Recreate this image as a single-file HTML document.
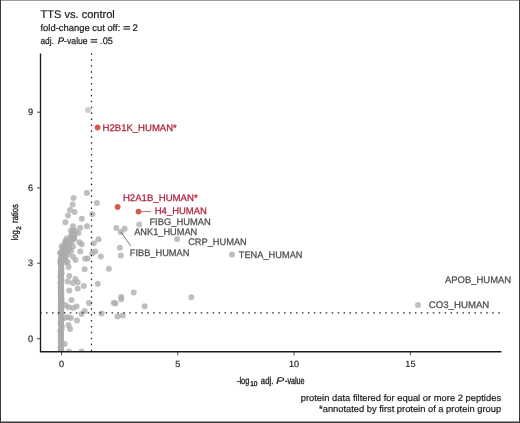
<!DOCTYPE html>
<html lang="en"><head><meta charset="utf-8"><title>TTS vs. control</title>
<style>html,body{margin:0;padding:0;background:#fff}svg{display:block}</style></head>
<body>
<svg width="520" height="423" viewBox="0 0 520 423">
<rect x="0" y="0" width="520" height="423" fill="#fff"/>
<defs><clipPath id="pc"><rect x="41" y="50" width="470" height="301"/></clipPath></defs>
<g clip-path="url(#pc)">
<circle cx="60.8" cy="258.0" r="3.0" fill="#ababab" fill-opacity="0.76"/>
<circle cx="61.1" cy="258.9" r="3.0" fill="#ababab" fill-opacity="0.76"/>
<circle cx="60.6" cy="259.7" r="3.0" fill="#ababab" fill-opacity="0.76"/>
<circle cx="61.1" cy="260.8" r="3.0" fill="#ababab" fill-opacity="0.76"/>
<circle cx="60.5" cy="261.7" r="3.0" fill="#ababab" fill-opacity="0.76"/>
<circle cx="60.8" cy="263.2" r="3.0" fill="#ababab" fill-opacity="0.76"/>
<circle cx="61.5" cy="264.8" r="3.0" fill="#ababab" fill-opacity="0.76"/>
<circle cx="61.0" cy="265.9" r="3.0" fill="#ababab" fill-opacity="0.76"/>
<circle cx="61.2" cy="267.1" r="3.0" fill="#ababab" fill-opacity="0.76"/>
<circle cx="61.1" cy="268.4" r="3.0" fill="#ababab" fill-opacity="0.76"/>
<circle cx="61.5" cy="269.7" r="3.0" fill="#ababab" fill-opacity="0.76"/>
<circle cx="60.9" cy="270.9" r="3.0" fill="#ababab" fill-opacity="0.76"/>
<circle cx="60.7" cy="272.3" r="3.0" fill="#ababab" fill-opacity="0.76"/>
<circle cx="61.6" cy="273.3" r="3.0" fill="#ababab" fill-opacity="0.76"/>
<circle cx="61.1" cy="274.5" r="3.0" fill="#ababab" fill-opacity="0.76"/>
<circle cx="60.9" cy="275.3" r="3.0" fill="#ababab" fill-opacity="0.76"/>
<circle cx="60.4" cy="276.6" r="3.0" fill="#ababab" fill-opacity="0.76"/>
<circle cx="61.2" cy="277.9" r="3.0" fill="#ababab" fill-opacity="0.76"/>
<circle cx="61.2" cy="278.7" r="3.0" fill="#ababab" fill-opacity="0.76"/>
<circle cx="61.2" cy="279.9" r="3.0" fill="#ababab" fill-opacity="0.76"/>
<circle cx="61.2" cy="281.0" r="3.0" fill="#ababab" fill-opacity="0.76"/>
<circle cx="60.4" cy="282.4" r="3.0" fill="#ababab" fill-opacity="0.76"/>
<circle cx="61.2" cy="283.2" r="3.0" fill="#ababab" fill-opacity="0.76"/>
<circle cx="60.7" cy="284.8" r="3.0" fill="#ababab" fill-opacity="0.76"/>
<circle cx="61.1" cy="286.0" r="3.0" fill="#ababab" fill-opacity="0.76"/>
<circle cx="60.8" cy="287.0" r="3.0" fill="#ababab" fill-opacity="0.76"/>
<circle cx="60.8" cy="288.1" r="3.0" fill="#ababab" fill-opacity="0.76"/>
<circle cx="60.8" cy="289.4" r="3.0" fill="#ababab" fill-opacity="0.76"/>
<circle cx="61.3" cy="290.5" r="3.0" fill="#ababab" fill-opacity="0.76"/>
<circle cx="61.1" cy="291.3" r="3.0" fill="#ababab" fill-opacity="0.76"/>
<circle cx="60.8" cy="292.7" r="3.0" fill="#ababab" fill-opacity="0.76"/>
<circle cx="61.4" cy="293.6" r="3.0" fill="#ababab" fill-opacity="0.76"/>
<circle cx="60.6" cy="294.6" r="3.0" fill="#ababab" fill-opacity="0.76"/>
<circle cx="61.2" cy="295.8" r="3.0" fill="#ababab" fill-opacity="0.76"/>
<circle cx="60.8" cy="296.7" r="3.0" fill="#ababab" fill-opacity="0.76"/>
<circle cx="61.4" cy="297.7" r="3.0" fill="#ababab" fill-opacity="0.76"/>
<circle cx="61.4" cy="298.9" r="3.0" fill="#ababab" fill-opacity="0.76"/>
<circle cx="60.8" cy="299.8" r="3.0" fill="#ababab" fill-opacity="0.76"/>
<circle cx="61.5" cy="301.1" r="3.0" fill="#ababab" fill-opacity="0.76"/>
<circle cx="60.7" cy="302.3" r="3.0" fill="#ababab" fill-opacity="0.76"/>
<circle cx="61.0" cy="303.2" r="3.0" fill="#ababab" fill-opacity="0.76"/>
<circle cx="61.4" cy="304.1" r="3.0" fill="#ababab" fill-opacity="0.76"/>
<circle cx="60.6" cy="305.6" r="3.0" fill="#ababab" fill-opacity="0.76"/>
<circle cx="61.4" cy="306.6" r="3.0" fill="#ababab" fill-opacity="0.76"/>
<circle cx="61.4" cy="308.0" r="3.0" fill="#ababab" fill-opacity="0.76"/>
<circle cx="60.6" cy="309.0" r="3.0" fill="#ababab" fill-opacity="0.76"/>
<circle cx="61.4" cy="310.1" r="3.0" fill="#ababab" fill-opacity="0.76"/>
<circle cx="60.8" cy="311.1" r="3.0" fill="#ababab" fill-opacity="0.76"/>
<circle cx="60.9" cy="312.2" r="3.0" fill="#ababab" fill-opacity="0.76"/>
<circle cx="61.5" cy="313.3" r="3.0" fill="#ababab" fill-opacity="0.76"/>
<circle cx="60.4" cy="314.3" r="3.0" fill="#ababab" fill-opacity="0.76"/>
<circle cx="61.5" cy="315.8" r="3.0" fill="#ababab" fill-opacity="0.76"/>
<circle cx="60.9" cy="317.4" r="3.0" fill="#ababab" fill-opacity="0.76"/>
<circle cx="61.5" cy="319.0" r="3.0" fill="#ababab" fill-opacity="0.76"/>
<circle cx="61.3" cy="320.0" r="3.0" fill="#ababab" fill-opacity="0.76"/>
<circle cx="61.2" cy="321.4" r="3.0" fill="#ababab" fill-opacity="0.76"/>
<circle cx="60.7" cy="322.6" r="3.0" fill="#ababab" fill-opacity="0.76"/>
<circle cx="60.7" cy="323.7" r="3.0" fill="#ababab" fill-opacity="0.76"/>
<circle cx="61.1" cy="324.6" r="3.0" fill="#ababab" fill-opacity="0.76"/>
<circle cx="61.4" cy="325.6" r="3.0" fill="#ababab" fill-opacity="0.76"/>
<circle cx="61.5" cy="326.4" r="3.0" fill="#ababab" fill-opacity="0.76"/>
<circle cx="61.5" cy="327.8" r="3.0" fill="#ababab" fill-opacity="0.76"/>
<circle cx="61.5" cy="329.3" r="3.0" fill="#ababab" fill-opacity="0.76"/>
<circle cx="60.4" cy="330.6" r="3.0" fill="#ababab" fill-opacity="0.76"/>
<circle cx="60.6" cy="332.0" r="3.0" fill="#ababab" fill-opacity="0.76"/>
<circle cx="61.2" cy="333.0" r="3.0" fill="#ababab" fill-opacity="0.76"/>
<circle cx="60.9" cy="334.2" r="3.0" fill="#ababab" fill-opacity="0.76"/>
<circle cx="61.1" cy="335.8" r="3.0" fill="#ababab" fill-opacity="0.76"/>
<circle cx="60.7" cy="336.8" r="3.0" fill="#ababab" fill-opacity="0.76"/>
<circle cx="61.0" cy="338.3" r="3.0" fill="#ababab" fill-opacity="0.76"/>
<circle cx="60.8" cy="339.8" r="3.0" fill="#ababab" fill-opacity="0.76"/>
<circle cx="61.0" cy="340.7" r="3.0" fill="#ababab" fill-opacity="0.76"/>
<circle cx="60.6" cy="342.2" r="3.0" fill="#ababab" fill-opacity="0.76"/>
<circle cx="61.5" cy="343.6" r="3.0" fill="#ababab" fill-opacity="0.76"/>
<circle cx="61.4" cy="345.0" r="3.0" fill="#ababab" fill-opacity="0.76"/>
<circle cx="61.2" cy="345.9" r="3.0" fill="#ababab" fill-opacity="0.76"/>
<circle cx="60.5" cy="347.3" r="3.0" fill="#ababab" fill-opacity="0.76"/>
<circle cx="60.7" cy="348.4" r="3.0" fill="#ababab" fill-opacity="0.76"/>
<circle cx="60.9" cy="349.6" r="3.0" fill="#ababab" fill-opacity="0.76"/>
<circle cx="61.3" cy="350.8" r="3.0" fill="#ababab" fill-opacity="0.76"/>
<circle cx="60.5" cy="351.6" r="3.0" fill="#ababab" fill-opacity="0.76"/>
<circle cx="60.5" cy="352.5" r="3.0" fill="#ababab" fill-opacity="0.76"/>
<circle cx="61.6" cy="353.3" r="3.0" fill="#ababab" fill-opacity="0.76"/>
<circle cx="60.5" cy="354.8" r="3.0" fill="#ababab" fill-opacity="0.76"/>
<circle cx="86.9" cy="193.1" r="3.0" fill="#ababab" fill-opacity="0.76"/>
<circle cx="73.5" cy="198.0" r="3.0" fill="#ababab" fill-opacity="0.76"/>
<circle cx="72.6" cy="204.6" r="3.0" fill="#ababab" fill-opacity="0.76"/>
<circle cx="96.9" cy="203.1" r="3.0" fill="#ababab" fill-opacity="0.76"/>
<circle cx="70.0" cy="210.0" r="3.0" fill="#ababab" fill-opacity="0.76"/>
<circle cx="74.6" cy="212.0" r="3.0" fill="#ababab" fill-opacity="0.76"/>
<circle cx="68.0" cy="215.4" r="3.0" fill="#ababab" fill-opacity="0.76"/>
<circle cx="92.3" cy="214.2" r="3.0" fill="#ababab" fill-opacity="0.76"/>
<circle cx="81.8" cy="218.8" r="3.0" fill="#ababab" fill-opacity="0.76"/>
<circle cx="65.4" cy="222.3" r="3.0" fill="#ababab" fill-opacity="0.76"/>
<circle cx="73.0" cy="226.2" r="3.0" fill="#ababab" fill-opacity="0.76"/>
<circle cx="87.0" cy="226.2" r="3.0" fill="#ababab" fill-opacity="0.76"/>
<circle cx="80.3" cy="227.7" r="3.0" fill="#ababab" fill-opacity="0.76"/>
<circle cx="70.8" cy="230.8" r="3.0" fill="#ababab" fill-opacity="0.76"/>
<circle cx="78.5" cy="233.0" r="3.0" fill="#ababab" fill-opacity="0.76"/>
<circle cx="71.5" cy="234.6" r="3.0" fill="#ababab" fill-opacity="0.76"/>
<circle cx="66.8" cy="238.5" r="3.0" fill="#ababab" fill-opacity="0.76"/>
<circle cx="74.0" cy="239.0" r="3.0" fill="#ababab" fill-opacity="0.76"/>
<circle cx="65.4" cy="241.3" r="3.0" fill="#ababab" fill-opacity="0.76"/>
<circle cx="69.2" cy="241.8" r="3.0" fill="#ababab" fill-opacity="0.76"/>
<circle cx="79.3" cy="242.3" r="3.0" fill="#ababab" fill-opacity="0.76"/>
<circle cx="81.7" cy="244.2" r="3.0" fill="#ababab" fill-opacity="0.76"/>
<circle cx="61.5" cy="246.2" r="3.0" fill="#ababab" fill-opacity="0.76"/>
<circle cx="65.4" cy="246.6" r="3.0" fill="#ababab" fill-opacity="0.76"/>
<circle cx="69.2" cy="247.1" r="3.0" fill="#ababab" fill-opacity="0.76"/>
<circle cx="73.0" cy="246.6" r="3.0" fill="#ababab" fill-opacity="0.76"/>
<circle cx="62.5" cy="250.0" r="3.0" fill="#ababab" fill-opacity="0.76"/>
<circle cx="67.3" cy="250.5" r="3.0" fill="#ababab" fill-opacity="0.76"/>
<circle cx="71.2" cy="251.0" r="3.0" fill="#ababab" fill-opacity="0.76"/>
<circle cx="60.6" cy="253.4" r="3.0" fill="#ababab" fill-opacity="0.76"/>
<circle cx="64.4" cy="253.8" r="3.0" fill="#ababab" fill-opacity="0.76"/>
<circle cx="68.3" cy="254.3" r="3.0" fill="#ababab" fill-opacity="0.76"/>
<circle cx="80.3" cy="251.4" r="3.0" fill="#ababab" fill-opacity="0.76"/>
<circle cx="73.0" cy="256.7" r="3.0" fill="#ababab" fill-opacity="0.76"/>
<circle cx="75.5" cy="260.1" r="3.0" fill="#ababab" fill-opacity="0.76"/>
<circle cx="85.1" cy="258.7" r="3.0" fill="#ababab" fill-opacity="0.76"/>
<circle cx="65.4" cy="257.7" r="3.0" fill="#ababab" fill-opacity="0.76"/>
<circle cx="66.3" cy="262.0" r="3.0" fill="#ababab" fill-opacity="0.76"/>
<circle cx="60.6" cy="263.5" r="3.0" fill="#ababab" fill-opacity="0.76"/>
<circle cx="92.3" cy="253.4" r="3.0" fill="#ababab" fill-opacity="0.76"/>
<circle cx="95.2" cy="251.4" r="3.0" fill="#ababab" fill-opacity="0.76"/>
<circle cx="93.8" cy="243.3" r="3.0" fill="#ababab" fill-opacity="0.76"/>
<circle cx="98.5" cy="239.2" r="3.0" fill="#ababab" fill-opacity="0.76"/>
<circle cx="87.7" cy="258.5" r="3.0" fill="#ababab" fill-opacity="0.76"/>
<circle cx="100.8" cy="256.5" r="3.0" fill="#ababab" fill-opacity="0.76"/>
<circle cx="67.7" cy="262.3" r="3.0" fill="#ababab" fill-opacity="0.76"/>
<circle cx="68.5" cy="267.0" r="3.0" fill="#ababab" fill-opacity="0.76"/>
<circle cx="84.6" cy="269.2" r="3.0" fill="#ababab" fill-opacity="0.76"/>
<circle cx="108.9" cy="268.8" r="3.0" fill="#ababab" fill-opacity="0.76"/>
<circle cx="69.2" cy="276.0" r="3.0" fill="#ababab" fill-opacity="0.76"/>
<circle cx="75.4" cy="279.0" r="3.0" fill="#ababab" fill-opacity="0.76"/>
<circle cx="77.7" cy="282.3" r="3.0" fill="#ababab" fill-opacity="0.76"/>
<circle cx="67.7" cy="281.5" r="3.0" fill="#ababab" fill-opacity="0.76"/>
<circle cx="73.0" cy="283.0" r="3.0" fill="#ababab" fill-opacity="0.76"/>
<circle cx="83.8" cy="286.0" r="3.0" fill="#ababab" fill-opacity="0.76"/>
<circle cx="97.7" cy="283.8" r="3.0" fill="#ababab" fill-opacity="0.76"/>
<circle cx="77.7" cy="288.5" r="3.0" fill="#ababab" fill-opacity="0.76"/>
<circle cx="69.2" cy="290.4" r="3.0" fill="#ababab" fill-opacity="0.76"/>
<circle cx="71.5" cy="300.0" r="3.0" fill="#ababab" fill-opacity="0.76"/>
<circle cx="89.0" cy="303.0" r="3.0" fill="#ababab" fill-opacity="0.76"/>
<circle cx="76.6" cy="306.5" r="3.0" fill="#ababab" fill-opacity="0.76"/>
<circle cx="73.0" cy="308.0" r="3.0" fill="#ababab" fill-opacity="0.76"/>
<circle cx="68.5" cy="307.3" r="3.0" fill="#ababab" fill-opacity="0.76"/>
<circle cx="65.4" cy="305.0" r="3.0" fill="#ababab" fill-opacity="0.76"/>
<circle cx="84.6" cy="311.0" r="3.0" fill="#ababab" fill-opacity="0.76"/>
<circle cx="81.5" cy="314.0" r="3.0" fill="#ababab" fill-opacity="0.76"/>
<circle cx="101.5" cy="313.5" r="3.0" fill="#ababab" fill-opacity="0.76"/>
<circle cx="113.8" cy="302.7" r="3.0" fill="#ababab" fill-opacity="0.76"/>
<circle cx="115.4" cy="303.5" r="3.0" fill="#ababab" fill-opacity="0.76"/>
<circle cx="117.5" cy="316.5" r="3.0" fill="#ababab" fill-opacity="0.76"/>
<circle cx="122.7" cy="315.6" r="3.0" fill="#ababab" fill-opacity="0.76"/>
<circle cx="67.7" cy="317.3" r="3.0" fill="#ababab" fill-opacity="0.76"/>
<circle cx="70.8" cy="318.0" r="3.0" fill="#ababab" fill-opacity="0.76"/>
<circle cx="77.0" cy="320.4" r="3.0" fill="#ababab" fill-opacity="0.76"/>
<circle cx="64.6" cy="318.0" r="3.0" fill="#ababab" fill-opacity="0.76"/>
<circle cx="68.5" cy="325.0" r="3.0" fill="#ababab" fill-opacity="0.76"/>
<circle cx="70.0" cy="329.0" r="3.0" fill="#ababab" fill-opacity="0.76"/>
<circle cx="64.6" cy="344.0" r="3.0" fill="#ababab" fill-opacity="0.76"/>
<circle cx="69.0" cy="351.5" r="3.0" fill="#ababab" fill-opacity="0.76"/>
<circle cx="81.5" cy="351.5" r="3.0" fill="#ababab" fill-opacity="0.76"/>
<circle cx="116.3" cy="227.9" r="3.0" fill="#ababab" fill-opacity="0.76"/>
<circle cx="124.6" cy="228.8" r="3.0" fill="#ababab" fill-opacity="0.76"/>
<circle cx="120.8" cy="232.0" r="3.0" fill="#ababab" fill-opacity="0.76"/>
<circle cx="119.8" cy="247.7" r="3.0" fill="#ababab" fill-opacity="0.76"/>
<circle cx="120.8" cy="255.4" r="3.0" fill="#ababab" fill-opacity="0.76"/>
<circle cx="133.7" cy="292.6" r="3.0" fill="#ababab" fill-opacity="0.76"/>
<circle cx="121.2" cy="297.0" r="3.0" fill="#ababab" fill-opacity="0.76"/>
<circle cx="121.2" cy="299.2" r="3.0" fill="#ababab" fill-opacity="0.76"/>
<circle cx="144.6" cy="306.3" r="3.0" fill="#ababab" fill-opacity="0.76"/>
<circle cx="191.3" cy="297.2" r="3.0" fill="#ababab" fill-opacity="0.76"/>
<circle cx="177.0" cy="238.9" r="3.0" fill="#ababab" fill-opacity="0.76"/>
<circle cx="232.0" cy="254.6" r="3.0" fill="#ababab" fill-opacity="0.76"/>
<circle cx="418.0" cy="305.0" r="3.0" fill="#ababab" fill-opacity="0.76"/>
<circle cx="70.5" cy="237.4" r="3.0" fill="#ababab" fill-opacity="0.76"/>
<circle cx="66.8" cy="245.1" r="3.0" fill="#ababab" fill-opacity="0.76"/>
<circle cx="75.5" cy="230.9" r="3.0" fill="#ababab" fill-opacity="0.76"/>
<circle cx="74.2" cy="237.9" r="3.0" fill="#ababab" fill-opacity="0.76"/>
<circle cx="62.8" cy="254.6" r="3.0" fill="#ababab" fill-opacity="0.76"/>
<circle cx="72.3" cy="238.1" r="3.0" fill="#ababab" fill-opacity="0.76"/>
<circle cx="68.7" cy="246.6" r="3.0" fill="#ababab" fill-opacity="0.76"/>
<circle cx="74.3" cy="234.2" r="3.0" fill="#ababab" fill-opacity="0.76"/>
<circle cx="65.6" cy="242.0" r="3.0" fill="#ababab" fill-opacity="0.76"/>
<circle cx="69.1" cy="246.6" r="3.0" fill="#ababab" fill-opacity="0.76"/>
<circle cx="67.8" cy="249.9" r="3.0" fill="#ababab" fill-opacity="0.76"/>
<circle cx="62.9" cy="255.4" r="3.0" fill="#ababab" fill-opacity="0.76"/>
<circle cx="60.3" cy="252.7" r="3.0" fill="#ababab" fill-opacity="0.76"/>
<circle cx="74.1" cy="237.3" r="3.0" fill="#ababab" fill-opacity="0.76"/>
<circle cx="63.9" cy="248.3" r="3.0" fill="#ababab" fill-opacity="0.76"/>
<circle cx="67.2" cy="242.5" r="3.0" fill="#ababab" fill-opacity="0.76"/>
<circle cx="69.2" cy="248.3" r="3.0" fill="#ababab" fill-opacity="0.76"/>
<circle cx="64.7" cy="259.1" r="3.0" fill="#ababab" fill-opacity="0.76"/>
<circle cx="62.2" cy="251.6" r="3.0" fill="#ababab" fill-opacity="0.76"/>
<circle cx="64.7" cy="257.5" r="3.0" fill="#ababab" fill-opacity="0.76"/>
<circle cx="62.1" cy="252.5" r="3.0" fill="#ababab" fill-opacity="0.76"/>
<circle cx="64.4" cy="244.3" r="3.0" fill="#ababab" fill-opacity="0.76"/>
<circle cx="66.7" cy="251.7" r="3.0" fill="#ababab" fill-opacity="0.76"/>
<circle cx="62.7" cy="250.7" r="3.0" fill="#ababab" fill-opacity="0.76"/>
<circle cx="71.6" cy="241.9" r="3.0" fill="#ababab" fill-opacity="0.76"/>
<circle cx="73.4" cy="230.4" r="3.0" fill="#ababab" fill-opacity="0.76"/>
<circle cx="63.0" cy="253.0" r="3.0" fill="#ababab" fill-opacity="0.76"/>
<circle cx="61.3" cy="260.5" r="3.0" fill="#ababab" fill-opacity="0.76"/>
<circle cx="139.2" cy="224.6" r="3.0" fill="#b4b8bc" fill-opacity="0.85"/>
<circle cx="88.0" cy="110.0" r="3.0" fill="#c4c4c4" fill-opacity="0.85"/>
</g>
<line x1="40.1" y1="312.8" x2="501" y2="312.8" stroke="#222" stroke-width="1.25" stroke-dasharray="1.5 4.45"/>
<line x1="91.5" y1="53.35" x2="91.5" y2="351.5" stroke="#222" stroke-width="1.25" stroke-dasharray="1.5 4.426"/>
<line x1="120.8" y1="232" x2="130.8" y2="246" stroke="#6a6a6a" stroke-width="0.9"/>
<line x1="138.5" y1="211.6" x2="151" y2="211.6" stroke="#b5203f" stroke-width="0.7"/>
<circle cx="97.6" cy="127.5" r="2.9" fill="#d35c4b" fill-opacity="1"/>
<circle cx="117.6" cy="206.9" r="2.9" fill="#d35c4b" fill-opacity="1"/>
<circle cx="138.5" cy="211.6" r="2.9" fill="#d35c4b" fill-opacity="1"/>
<path d="M40.5 53.5V351.7H501.5" fill="none" stroke="#1a1a1a" stroke-width="1.35"/>
<line x1="37" y1="112.2" x2="40.5" y2="112.2" stroke="#1a1a1a" stroke-width="0.8"/>
<line x1="37" y1="187.89999999999998" x2="40.5" y2="187.89999999999998" stroke="#1a1a1a" stroke-width="0.8"/>
<line x1="37" y1="263.2" x2="40.5" y2="263.2" stroke="#1a1a1a" stroke-width="0.8"/>
<line x1="37" y1="338.7" x2="40.5" y2="338.7" stroke="#1a1a1a" stroke-width="0.8"/>
<line x1="61.5" y1="351.5" x2="61.5" y2="355.2" stroke="#1a1a1a" stroke-width="0.8"/>
<line x1="177.7" y1="351.5" x2="177.7" y2="355.2" stroke="#1a1a1a" stroke-width="0.8"/>
<line x1="294" y1="351.5" x2="294" y2="355.2" stroke="#1a1a1a" stroke-width="0.8"/>
<line x1="410.4" y1="351.5" x2="410.4" y2="355.2" stroke="#1a1a1a" stroke-width="0.8"/>
<g font-family="'Liberation Sans', Arial, Helvetica, sans-serif" fill="#2b2b2b" text-rendering="geometricPrecision">
<text x="33" y="115.3" font-size="9.2" stroke="#2b2b2b" stroke-width="0.2" text-anchor="end">9</text>
<text x="33" y="191.0" font-size="9.2" stroke="#2b2b2b" stroke-width="0.2" text-anchor="end">6</text>
<text x="33" y="266.3" font-size="9.2" stroke="#2b2b2b" stroke-width="0.2" text-anchor="end">3</text>
<text x="33" y="341.8" font-size="9.2" stroke="#2b2b2b" stroke-width="0.2" text-anchor="end">0</text>
<text x="61.5" y="367.4" font-size="9.1" stroke="#2b2b2b" stroke-width="0.2" text-anchor="middle">0</text>
<text x="177.7" y="367.4" font-size="9.1" stroke="#2b2b2b" stroke-width="0.2" text-anchor="middle">5</text>
<text x="294" y="367.4" font-size="9.1" stroke="#2b2b2b" stroke-width="0.2" text-anchor="middle">10</text>
<text x="410.4" y="367.4" font-size="9.1" stroke="#2b2b2b" stroke-width="0.2" text-anchor="middle">15</text>
<text x="40.5" y="17.9" font-size="11" fill="#1a1a1a" stroke="#1a1a1a" stroke-width="0.2" textLength="74.3" lengthAdjust="spacingAndGlyphs">TTS vs. control</text>
<text y="31.35" font-size="9.5" fill="#1a1a1a" stroke="#1a1a1a" stroke-width="0.2" lengthAdjust="spacingAndGlyphs"><tspan x="40.5" textLength="79.8" stroke="#1a1a1a" stroke-width="0.2" lengthAdjust="spacingAndGlyphs">fold-change cut off:</tspan><tspan> </tspan><tspan x="123.0" textLength="7.5" stroke="#1a1a1a" stroke-width="0.2" lengthAdjust="spacingAndGlyphs">=</tspan><tspan> </tspan><tspan x="132.5">2</tspan></text>
<text y="43.6" font-size="9.5" fill="#1a1a1a" stroke="#1a1a1a" stroke-width="0.2" lengthAdjust="spacingAndGlyphs"><tspan x="40.5" textLength="13.4" stroke="#1a1a1a" stroke-width="0.2" lengthAdjust="spacingAndGlyphs">adj.</tspan><tspan> </tspan><tspan x="57.7" font-style="italic">P</tspan><tspan x="64.1" textLength="23.6" stroke="#1a1a1a" stroke-width="0.2" lengthAdjust="spacingAndGlyphs">-value</tspan><tspan> </tspan><tspan x="90.3" textLength="7.5" stroke="#1a1a1a" stroke-width="0.2" lengthAdjust="spacingAndGlyphs">=</tspan><tspan> </tspan><tspan x="100.1" textLength="12.7" stroke="#1a1a1a" stroke-width="0.2" lengthAdjust="spacingAndGlyphs">.05</tspan></text>
<text x="102.6" y="130.8" font-size="9.5" fill="#b01f3c" stroke="#b01f3c" stroke-width="0.25" textLength="74.2" lengthAdjust="spacingAndGlyphs">H2B1K_HUMAN*</text>
<text x="122.9" y="201.2" font-size="9.5" fill="#b01f3c" stroke="#b01f3c" stroke-width="0.25" textLength="74.8" lengthAdjust="spacingAndGlyphs">H2A1B_HUMAN*</text>
<text x="154.8" y="214.0" font-size="9.5" fill="#b01f3c" stroke="#b01f3c" stroke-width="0.25" textLength="52" lengthAdjust="spacingAndGlyphs">H4_HUMAN</text>
<text x="149.4" y="224.9" font-size="9.5" fill="#4d4d4d" stroke="#4d4d4d" stroke-width="0.25" textLength="61.4" lengthAdjust="spacingAndGlyphs">FIBG_HUMAN</text>
<text x="134.2" y="235.3" font-size="9.5" fill="#4d4d4d" stroke="#4d4d4d" stroke-width="0.25" textLength="63" lengthAdjust="spacingAndGlyphs">ANK1_HUMAN</text>
<text x="188.2" y="245.3" font-size="9.5" fill="#4d4d4d" stroke="#4d4d4d" stroke-width="0.25" textLength="58.6" lengthAdjust="spacingAndGlyphs">CRP_HUMAN</text>
<text x="129.8" y="255.8" font-size="9.5" fill="#4d4d4d" stroke="#4d4d4d" stroke-width="0.25" textLength="59.6" lengthAdjust="spacingAndGlyphs">FIBB_HUMAN</text>
<text x="238.8" y="257.9" font-size="9.5" fill="#4d4d4d" stroke="#4d4d4d" stroke-width="0.25" textLength="63.7" lengthAdjust="spacingAndGlyphs">TENA_HUMAN</text>
<text x="445" y="283.4" font-size="9.5" fill="#4d4d4d" stroke="#4d4d4d" stroke-width="0.25" textLength="66.2" lengthAdjust="spacingAndGlyphs">APOB_HUMAN</text>
<text x="428.8" y="308.4" font-size="9.5" fill="#4d4d4d" stroke="#4d4d4d" stroke-width="0.25" textLength="60.5" lengthAdjust="spacingAndGlyphs">CO3_HUMAN</text>
<text x="501.1" y="400.6" font-size="9.3" fill="#1a1a1a" stroke="#1a1a1a" stroke-width="0.2" text-anchor="end" textLength="200.4" lengthAdjust="spacingAndGlyphs">protein data filtered for equal or more 2 peptides</text>
<text x="501.1" y="412" font-size="9.3" fill="#1a1a1a" stroke="#1a1a1a" stroke-width="0.2" text-anchor="end" textLength="182" lengthAdjust="spacingAndGlyphs">*annotated by first protein of a protein group</text>
<text y="383.6" font-size="9.9" fill="#1a1a1a" stroke="#1a1a1a" stroke-width="0.32" lengthAdjust="spacingAndGlyphs"><tspan x="236.9" textLength="2.6" stroke="#1a1a1a" stroke-width="0.32" lengthAdjust="spacingAndGlyphs">–</tspan><tspan x="239.4" textLength="9.9" stroke="#1a1a1a" stroke-width="0.32" lengthAdjust="spacingAndGlyphs">log</tspan><tspan x="250.2" dy="2.6" font-size="6.8" textLength="7.3" stroke="#1a1a1a" stroke-width="0.32" lengthAdjust="spacingAndGlyphs">10</tspan><tspan dy="-2.6"> </tspan><tspan x="260.8" textLength="12.6" stroke="#1a1a1a" stroke-width="0.32" lengthAdjust="spacingAndGlyphs">adj.</tspan><tspan> </tspan><tspan x="275.9" font-style="italic" font-size="9.8" textLength="8.2" stroke-width="0.1" lengthAdjust="spacingAndGlyphs">P</tspan><tspan x="285.0" textLength="19.6" stroke="#1a1a1a" stroke-width="0.32" lengthAdjust="spacingAndGlyphs">-value</tspan></text>
<text transform="translate(18.3,240.5) rotate(-90)" font-size="9.6" fill="#1a1a1a" stroke="#1a1a1a" stroke-width="0.32" lengthAdjust="spacingAndGlyphs"><tspan x="0" textLength="10.2" stroke="#1a1a1a" stroke-width="0.32" lengthAdjust="spacingAndGlyphs">log</tspan><tspan x="10.8" dy="2.4" font-size="6.6" textLength="3.5" stroke="#1a1a1a" stroke-width="0.32" lengthAdjust="spacingAndGlyphs">2</tspan><tspan dy="-2.4"> </tspan><tspan x="17.6" textLength="18.8" stroke="#1a1a1a" stroke-width="0.32" lengthAdjust="spacingAndGlyphs">ratios</tspan></text>
</g>
<path d="M0 0H520V423H0Z M1 0.6V421.6H519V0.6Z" fill="#3a3a3a" fill-rule="evenodd"/>
</svg>
</body></html>
